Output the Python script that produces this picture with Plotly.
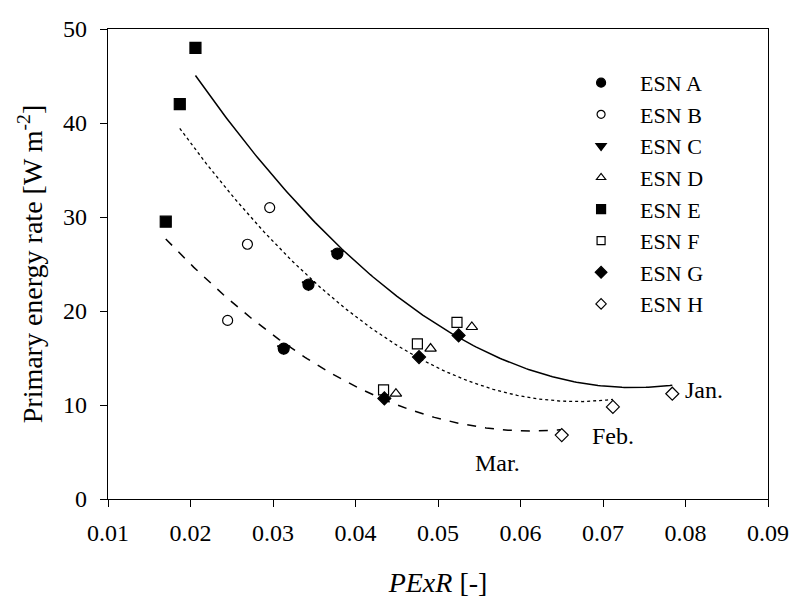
import numpy as np
import plotly.graph_objects as go

# ---- data (Jan, Feb, Mar for each ESN) ----
esn_names = ["ESN A", "ESN B", "ESN C", "ESN D", "ESN E", "ESN F", "ESN G", "ESN H"]
x_A = [0.0378, 0.0343, 0.0313]; y_A = [26.1, 22.8, 16.0]
x_B = [0.0296, 0.0269, 0.0245]; y_B = [31.0, 27.1, 19.0]
x_C = [0.0378, 0.0343, 0.0313]; y_C = [26.1, 22.8, 16.0]
x_D = [0.0541, 0.0491, 0.0449]; y_D = [18.3, 16.0, 11.2]
x_E = [0.0206, 0.0187, 0.0170]; y_E = [48.0, 42.0, 29.5]
x_F = [0.0523, 0.0475, 0.0434]; y_F = [18.8, 16.5, 11.6]
x_G = [0.0525, 0.0477, 0.0435]; y_G = [17.4, 15.1, 10.7]
x_H = [0.0784, 0.0712, 0.0650]; y_H = [11.2, 9.8, 6.8]

months = ["Jan.", "Feb.", "Mar."]
month_label_x = [0.0797, 0.0684, 0.0542]
month_label_y = [11.6, 6.7, 3.8]

xs = [x_A, x_B, x_C, x_D, x_E, x_F, x_G, x_H]
ys = [y_A, y_B, y_C, y_D, y_E, y_F, y_G, y_H]

symbols = ["circle", "circle", "triangle-down", "triangle-up", "square", "square", "diamond", "diamond"]
filled = [True, False, True, False, True, False, True, False]
sizes = [11, 10, 11, 10, 11, 10, 10, 10]
legend_sizes = [9, 8, 9, 8, 9, 8, 9, 8]

FONT = "Liberation Serif"
fig = go.Figure()

# fitted trend curves (quadratic regression per month)
dashes = ["solid", "dot", "dash"]
widths = [1.5, 1.3, 1.5]
for m in range(3):
    mx = np.array([xx[m] for xx in xs])
    my = np.array([yy[m] for yy in ys])
    coef = np.polyfit(mx, my, 2)
    xf = np.linspace(mx.min(), mx.max(), 200)
    fig.add_trace(go.Scatter(x=xf, y=np.polyval(coef, xf), mode="lines",
                             line=dict(color="black", width=widths[m], dash=dashes[m]),
                             showlegend=False, hoverinfo="skip"))

for i, name in enumerate(esn_names):
    fig.add_trace(go.Scatter(
        x=xs[i], y=ys[i], mode="markers", name=name, showlegend=False,
        marker=dict(symbol=symbols[i], size=sizes[i],
                    color="black" if filled[i] else "white",
                    line=dict(color="black", width=1.2))))
    # legend proxy
    fig.add_trace(go.Scatter(
        x=[None], y=[None], mode="markers", name=name, showlegend=True,
        marker=dict(symbol=symbols[i], size=legend_sizes[i],
                    color="black" if filled[i] else "white",
                    line=dict(color="black", width=1.2))))

for t, lx, ly in zip(months, month_label_x, month_label_y):
    fig.add_annotation(x=lx, y=ly, text=t, showarrow=False, xanchor="left",
                       yanchor="middle", font=dict(family=FONT, size=24, color="black"))

axis_common = dict(showline=True, linecolor="black", linewidth=1.3, mirror=True,
                   ticks="outside", ticklen=7, tickwidth=1.2, tickcolor="black",
                   showgrid=False, zeroline=False, automargin=False,
                   tickfont=dict(family=FONT, size=24, color="black"))

fig.update_layout(
    width=792, height=598,
    margin=dict(l=108, r=24, t=29, b=99),
    paper_bgcolor="white", plot_bgcolor="white",
    font=dict(family=FONT, color="black"),
    xaxis=dict(range=[0.01, 0.09], dtick=0.01, tick0=0.01, tickformat=".2f",
               ticklabelstandoff=5,
               title=dict(text="<i>PExR</i> [-]", font=dict(family=FONT, size=28, color="black"), standoff=29),
               **axis_common),
    yaxis=dict(range=[0, 50], dtick=10, ticklabelstandoff=8,
               title=dict(text="Primary energy rate [W m<sup>-2</sup>]",
                          font=dict(family=FONT, size=28, color="black"), standoff=12),
               **axis_common),
    legend=dict(x=0.688, y=0.93, xanchor="left", yanchor="top",
                font=dict(family=FONT, size=22, color="black"),
                bgcolor="rgba(0,0,0,0)", itemwidth=68, tracegroupgap=0),
)

fig.write_html("out.html")
